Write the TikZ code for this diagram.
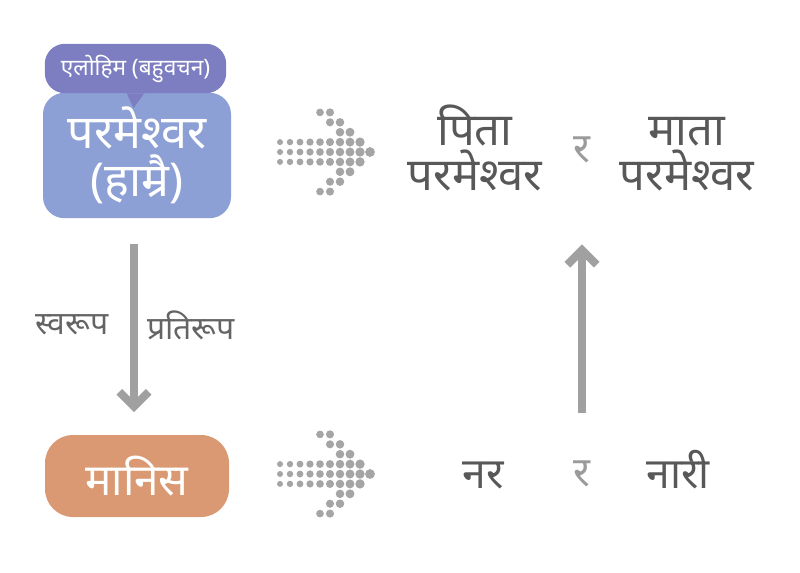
\documentclass[tikz,border=0pt]{standalone}
\usepackage{fontspec}
\newfontfamily\dev[Script=Devanagari]{Noto Sans}
\usetikzlibrary{arrows.meta}
\definecolor{bubcol}{RGB}{124,126,193}
\definecolor{godcol}{RGB}{141,160,213}
\definecolor{mancol}{RGB}{218,153,114}
\definecolor{txtcol}{RGB}{88,88,88}
\definecolor{lblcol}{RGB}{100,100,100}
\definecolor{orcol}{RGB}{155,155,155}
\definecolor{arrcol}{RGB}{160,160,160}
\definecolor{dotcol}{RGB}{165,165,165}
\tikzset{
  boxbase/.style={inner sep=0pt, align=center, text=white},
  godbox/.style={boxbase, fill=godcol, rounded corners=16pt, minimum width=141pt, minimum height=94pt,
    font=\dev\fontsize{35}{36}\selectfont},
  bubbox/.style={boxbase, fill=bubcol, rounded corners=15pt, minimum width=136pt, minimum height=37pt,
    font=\dev\fontsize{17}{20}\selectfont},
  manbox/.style={boxbase, fill=mancol, rounded corners=21pt, minimum width=138pt, minimum height=61.5pt,
    font=\dev\fontsize{33}{36}\selectfont},
  bigtxt/.style={inner sep=0pt, anchor=base, text=txtcol, font=\dev\fontsize{34}{35}\selectfont},
  lowtxt/.style={inner sep=0pt, anchor=base, text=txtcol, font=\dev\bfseries\fontsize{32}{36}\selectfont},
  ortxt/.style={inner sep=0pt, text=orcol, font=\dev\fontsize{31}{36}\selectfont},
  lbltxt/.style={inner sep=0pt, text=lblcol, font=\dev\fontsize{24}{28}\selectfont},
  bigarrow/.style={draw=arrcol, line width=6pt, line join=miter,
    -{Straight Barb[length=11pt, width=22pt, line width=6pt]}},
}
\begin{document}
\begin{tikzpicture}[x=0.75pt,y=-0.75pt]
\useasboundingbox (0,0) rectangle (800,572);
% left column
\node[godbox] (god) at (137,155.5) {परमेश्वर\\(हाम्रै)};
\node[bubbox] (bub) at (135.5,68.5) {एलोहिम (बहुवचन)};
\fill[bubcol] ([xshift=-6.5pt]bub.south) -- ([xshift=6.5pt]bub.south) -- ([yshift=-11pt,xshift=-1.5pt]bub.south) -- cycle;
\node[manbox] (man) at (137,476) {मानिस};
\node[lbltxt] (svarup) at (72,325) {स्वरूप};
\node[lbltxt] (pratirup) at (191,325) {प्रतिरूप};
\draw[bigarrow] ([xshift=-2.25pt,yshift=-19.5pt]god.south) -- ([xshift=-2.25pt,yshift=17pt]man.north);
% right top
\node[bigtxt] (pita) at (475,145) {पिता};
\node[bigtxt] (pitaP) at (475,190) {परमेश्वर};
\node[ortxt] (ortop) at (582,150) {र};
\node[bigtxt] (mata) at (687,145) {माता};
\node[bigtxt] (mataP) at (687,190) {परमेश्वर};
% right bottom
\node[lowtxt] (nar) at (483,488) {नर};
\node[ortxt] (orbot) at (582,474) {र};
\node[lowtxt] (nari) at (678,488) {नारी};
\coordinate (upfrom) at (orbot.north |- man.north);
\coordinate (upto) at (ortop.south |- god.south);
\draw[bigarrow] ([yshift=16.5pt]upfrom) -- ([yshift=-19.5pt]upto);
% dotted arrows
\foreach \cy in {152,474}{
  \foreach \c/\r in {0/-1,1/-1,2/-1,3/-1,4/-1,5/-1,6/-1,7/-1,8/-1,
                     0/0,1/0,2/0,3/0,4/0,5/0,6/0,7/0,8/0,9/0,
                     0/1,1/1,2/1,3/1,4/1,5/1,6/1,7/1,8/1,
                     6/-2,7/-2,5/-3,6/-3,4/-4,5/-4,
                     6/2,7/2,5/3,6/3,4/4,5/4}{
    \fill[dotcol] (280+10*\c,\cy+9.9*\r) circle[radius={(3.0+0.21*\c)*0.75pt}];
  }
}
\end{tikzpicture}
\end{document}
